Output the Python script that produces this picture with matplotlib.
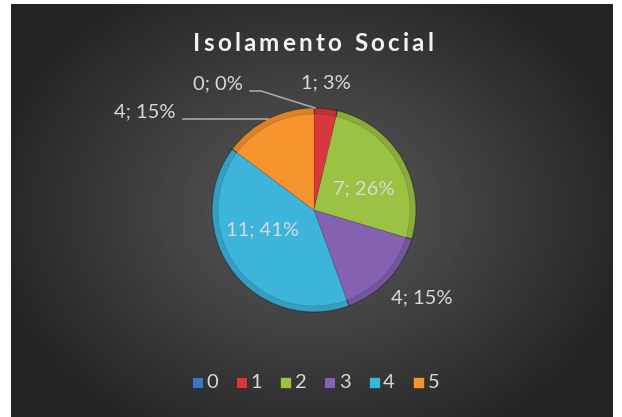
import numpy as np
import matplotlib
matplotlib.use("Agg")
import matplotlib.pyplot as plt
from matplotlib.patches import Rectangle
from matplotlib.colors import to_rgb

categories = ['0', '1', '2', '3', '4', '5']
values = [0, 1, 7, 4, 11, 4]
colors = ['#3F74C2', '#D8383C', '#9BC243', '#8461B1', '#3DB4DA', '#F7942E']
title = 'Isolamento Social'

W, H = 622, 417
fig = plt.figure(figsize=(W / 100, H / 100), dpi=100)
fig.patch.set_facecolor('white')

# background gradient
bg = fig.add_axes([11 / W, 0, (613 - 11) / W, (417 - 4) / H])
bg.set_axis_off()
yy, xx = np.mgrid[0:413, 0:602]
cx, cy = 301, 206
d = np.sqrt(((xx - cx) / 330.0) ** 2 + ((yy - cy) / 260.0) ** 2)
v = np.clip(0.36 - 0.22 * d, 0.14, 0.4)
bg.imshow(v, cmap='gray', vmin=0, vmax=1, aspect='auto', interpolation='bilinear')

ax = fig.add_axes([0, 0, 1, 1])
ax.patch.set_alpha(0)

def Y(y):
    return H - y

def shade(c, f):
    return tuple(min(1, max(0, x * f)) for x in to_rgb(c))

center = (314, Y(210))
radius = 102
total = sum(values)
# outer bevel ring (slightly darker)
ax.pie(values, colors=[shade(c, 0.88) for c in colors], startangle=90, counterclock=False,
       center=center, radius=radius, frame=True,
       wedgeprops=dict(edgecolor=(0, 0, 0, 0.35), linewidth=0.8))
# main faces
ax.pie(values, colors=colors, startangle=90, counterclock=False,
       center=center, radius=radius - 6, frame=True,
       wedgeprops=dict(edgecolor=(0, 0, 0, 0.12), linewidth=0.6))
ax.set_xlim(0, W)
ax.set_ylim(0, H)
ax.set_aspect('auto')
ax.set_axis_off()

# percentages rounded so they sum to 100 (largest remainder)
raw = [100 * v / total for v in values]
pct = [int(np.floor(r)) for r in raw]
rem = sorted(range(len(raw)), key=lambda i: -(raw[i] - pct[i]))
for i in rem[:100 - sum(pct)]:
    pct[i] += 1

lab_color = '#D9D9D9'
fam = ['Lato', 'DejaVu Sans']
fs = 14.5
labels = [f"{v}; {p}%" for v, p in zip(values, pct)]
pos = [(218, 84), (326, 83), (364, 189), (422, 298), (263, 230), (145, 112)]
for (x, y), t in zip(pos, labels):
    ax.text(x, Y(y), t, color=lab_color, fontsize=fs, family=fam,
            ha='center', va='center')

# leader lines
ax.plot([250, 261, 315], [Y(91), Y(91), Y(108)], color='#A6A6A6', lw=1.2)
ax.plot([183, 268], [Y(119), Y(119)], color='#A6A6A6', lw=1.2)

# title with letter spacing
fig.canvas.draw()
renderer = fig.canvas.get_renderer()
tfs = 17.5
spacing = 3.2
widths = []
for ch in title:
    t = ax.text(0, 0, ch if ch != ' ' else 'n', fontsize=tfs, family=fam, fontweight='bold')
    w = t.get_window_extent(renderer).width
    if ch == ' ':
        w *= 0.45
    widths.append(w)
    t.remove()
totw = sum(widths) + spacing * (len(title) - 1)
x = 313 - totw / 2
for ch, w in zip(title, widths):
    if ch != ' ':
        ax.text(x, Y(43), ch, color='#F2F2F2', fontsize=tfs, family=fam,
                fontweight='bold', ha='left', va='center')
    x += w + spacing

# legend
lx0 = 197
step = 44.3
for i, (c, cat) in enumerate(zip(colors, categories)):
    x = lx0 + i * step
    ax.add_patch(Rectangle((x - 5.5, Y(382) - 5.5), 11, 11, facecolor=c,
                           edgecolor=(0, 0, 0, 0.4), lw=0.6))
    ax.text(x + 9, Y(382), cat, color=lab_color, fontsize=fs, family=fam,
            ha='left', va='center')

fig.savefig('out.png', dpi=100, facecolor=fig.get_facecolor())
